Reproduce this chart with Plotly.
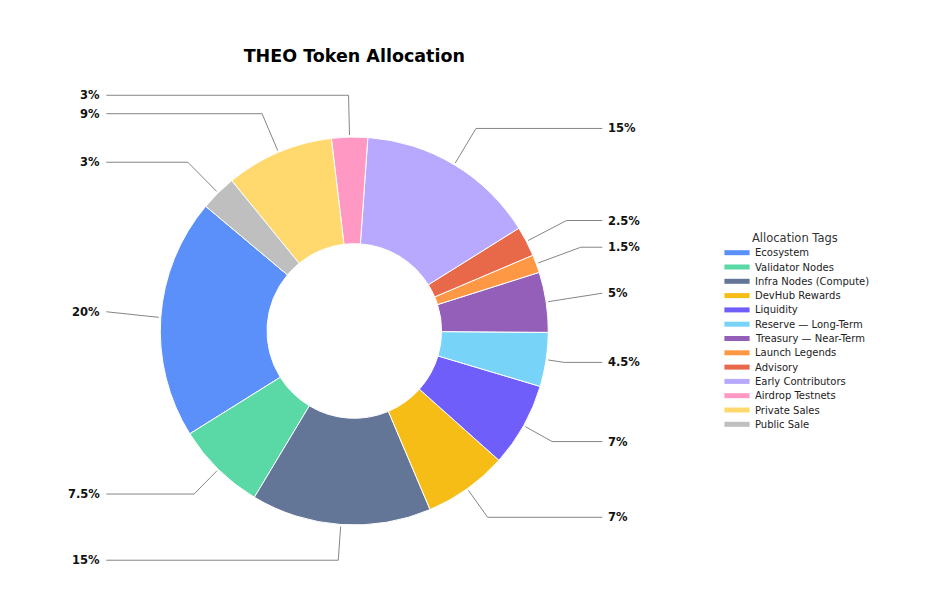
import numpy as np
import plotly.graph_objects as go

# allocation data
labels = ["Ecosystem", "Validator Nodes", "Infra Nodes (Compute)", "DevHub Rewards",
          "Liquidity", "Reserve — Long-Term", "Treasury — Near-Term", "Launch Legends",
          "Advisory", "Early Contributors", "Airdrop Testnets", "Private Sales", "Public Sale"]
shares = [20, 7.5, 15, 7, 7, 4.5, 5, 1.5, 2.5, 15, 3, 9, 3]
colors = ["#5B8FF9", "#5AD8A6", "#637697", "#F6BD16", "#6F5EF9", "#78D3F8", "#945FB9",
          "#FF9845", "#E8684A", "#B8A9FF", "#FF99C3", "#FFD86E", "#BFBFBF"]

W, H = 951, 603
OFF = 8                       # page body margin around the plot div
FW, FH = W - 2 * OFF, H - 2 * OFF
cx, cy, r = 354.3, 331, 194   # pie centre / radius in window pixels
start_deg = 140               # first wedge starts here (math angle), goes counterclockwise
FONT = "DejaVu Sans"


def px_x(p):
    return (p - OFF) / FW


def px_y(p):
    return 1 - (p - OFF) / FH


vals = np.array(shares, dtype=float)
frac = vals / vals.sum()
ends = start_deg + np.cumsum(frac) * 360
mids = np.radians(ends - frac * 180)

# leader lines (edge -> elbow -> horizontal to the label)
lx, ly_all, annos = [], [], []
for a, v in zip(mids, shares):
    ca, sa = np.cos(a), np.sin(a)
    ly = cy - 1.2 * r * sa - 3
    side = 1 if ca >= 0 else -1
    x_end = cx + side * 248
    d = (cy - ly) / sa
    ex = cx + d * ca
    if abs(ex - cx) > 248:
        ex = x_end
    sx, sy = cx + (r + 2) * ca, cy - (r + 2) * sa
    lx += [sx, ex, x_end, None]
    ly_all += [sy, ly, ly, None]
    annos.append(dict(
        x=x_end + side * 4, y=ly, xref="x", yref="y", text=f"{v:g}%", showarrow=False,
        xanchor="left" if side > 0 else "right", yanchor="middle",
        font=dict(family=FONT, size=11.5, color="#111111", weight="bold")))

fig = go.Figure()

# plotly's ccw rotation marks where the first slice ends
fig.add_trace(go.Pie(
    labels=labels, values=shares, sort=False, direction="counterclockwise",
    rotation=90 - start_deg - 360 * frac[0], hole=0.45, textinfo="none", showlegend=False,
    marker=dict(colors=colors, line=dict(color="white", width=1)),
    domain=dict(x=[px_x(cx - r), px_x(cx + r)], y=[px_y(cy + r), px_y(cy - r)]),
))

fig.add_trace(go.Scatter(
    x=lx, y=ly_all, mode="lines", line=dict(color="#858585", width=1),
    hoverinfo="skip", showlegend=False,
))

# hand-made legend so the rows sit tight like the original
leg_x, leg_y0, leg_step = 737, 252.7, 14.3
leg_y = [leg_y0 + i * leg_step for i in range(len(labels))]
fig.add_trace(go.Scatter(
    x=[leg_x] * len(labels), y=leg_y, mode="markers",
    marker=dict(symbol="line-ew", size=18, line=dict(color=colors, width=5)),
    hoverinfo="skip", showlegend=False,
))
for name, y in zip(labels, leg_y):
    annos.append(dict(x=753, y=y, xref="x", yref="y", text=name, showarrow=False,
                      xanchor="left", yanchor="middle",
                      font=dict(family=FONT, size=10, color="#222222")))
annos.append(dict(x=750, y=leg_y0 - 15, xref="x", yref="y", text="Allocation Tags",
                  showarrow=False, xanchor="left", yanchor="middle",
                  font=dict(family=FONT, size=11.5, color="#333333")))

fig.update_layout(
    width=FW, height=FH,
    margin=dict(l=0, r=0, t=0, b=0),
    paper_bgcolor="white", plot_bgcolor="white",
    title=dict(text="THEO Token Allocation", x=px_x(cx), xanchor="center",
               y=px_y(56), yanchor="middle",
               font=dict(family=FONT, size=17.5, color="black", weight="bold")),
    xaxis=dict(range=[OFF, W - OFF], visible=False, fixedrange=True),
    yaxis=dict(range=[H - OFF, OFF], visible=False, fixedrange=True),
    annotations=annos,
)

fig.write_html("out.html")
